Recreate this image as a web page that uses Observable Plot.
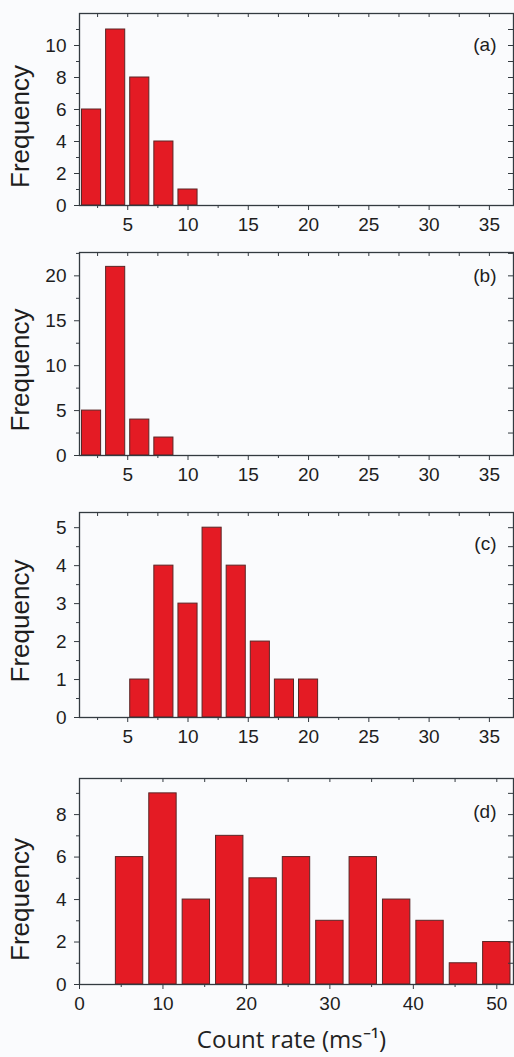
<!DOCTYPE html>
<html>
<head>
<meta charset="utf-8">
<script src="https://cdn.jsdelivr.net/npm/d3@7"></script>
<script src="https://cdn.jsdelivr.net/npm/@observablehq/plot@0.6"></script>
<style>
  html, body { margin: 0; padding: 0; background: #fafbfd; overflow: hidden; }
  #chart svg { display: block; background: transparent; }
</style>
</head>
<body>
<div id="chart"></div>
<script>
// Histogram data: bin centres (count rate, ms^-1) and frequencies
const rateA = [2, 4, 6, 8, 10];
const freqA = [6, 11, 8, 4, 1];
const rateB = [2, 4, 6, 8];
const freqB = [5, 21, 4, 2];
const rateC = [6, 8, 10, 12, 14, 16, 18, 20];
const freqC = [1, 4, 3, 5, 4, 2, 1, 1];
const rateD = [6, 10, 14, 18, 22, 26, 30, 34, 38, 42, 46, 50];
const freqD = [6, 9, 4, 7, 5, 6, 3, 6, 4, 3, 1, 2];
const binWidthABC = 2;
const binWidthD = 4;

const tags = ["(a)", "(b)", "(c)", "(d)"];
const yLabel = "Frequency";
const xLabel = "Count rate (ms\u207B\u00B9)";

// tick values
const xMajorABC = [5, 10, 15, 20, 25, 30, 35];
const xMinorABC = [2.5, 7.5, 12.5, 17.5, 22.5, 27.5, 32.5];
const xMajorD = [0, 10, 20, 30, 40, 50];
const xMinorD = [5, 15, 25, 35, 45];
const yMajorA = [0, 2, 4, 6, 8, 10];
const yMinorA = [1, 3, 5, 7, 9, 11];
const yMajorB = [0, 5, 10, 15, 20];
const yMinorB = [2.5, 7.5, 12.5, 17.5, 22.5];
const yMajorC = [0, 1, 2, 3, 4, 5];
const yMinorC = [0.5, 1.5, 2.5, 3.5, 4.5];
const yMajorD = [0, 2, 4, 6, 8];
const yMinorD = [1, 3, 5, 7, 9];

const W = 514;
const ML = 79, MR = 1;
const INK = "#1e1e1e";
const FRAME = "#333a40";
const RED = "#e41b24";
const EDGE = "#5a2626";
const SANS = "Liberation Sans";

function panel(cfg) {
  const table = cfg.rate.map((r, i) => ({lo: r - cfg.bw / 2, hi: r + cfg.bw / 2, f: cfg.freq[i]}));
  const frameW = W - ML - MR;
  const frameH = cfg.height - cfg.mt - cfg.mb;
  const fmt = d => String(d);
  const marks = [
    Plot.rectY(table, {x1: "lo", x2: "hi", y: "f", fill: RED, stroke: EDGE, strokeWidth: 1,
      insetLeft: cfg.inset, insetRight: cfg.inset}),
    Plot.frame({stroke: FRAME, strokeWidth: 1.3}),
    Plot.axisX({ticks: cfg.xMajor, label: null, tickFormat: fmt, tickSize: 5, tickPadding: 7,
      fontSize: 19, fontFamily: SANS, stroke: FRAME, fill: INK}),
    Plot.axisX({ticks: cfg.xMinor, label: null, tickSize: 3, tickFormat: () => "", stroke: FRAME}),
    Plot.tickX(cfg.xMajor.concat(cfg.xMinor), {x: d => d, insetBottom: frameH - 4, stroke: FRAME}),
    Plot.axisY({ticks: cfg.yMajor, label: null, tickFormat: fmt, tickSize: 5, tickPadding: 8,
      fontSize: 19, fontFamily: SANS, stroke: FRAME, fill: INK}),
    Plot.axisY({ticks: cfg.yMinor, label: null, tickSize: 3, tickFormat: () => "", stroke: FRAME}),
    Plot.tickY(cfg.yMajor.concat(cfg.yMinor), {y: d => d, insetLeft: frameW - 5, stroke: FRAME}),
    Plot.text([cfg.tag], {frameAnchor: "top-right", textAnchor: "end", lineAnchor: "middle",
      dx: -17, dy: cfg.tagDy, fontSize: 19, fontFamily: SANS, fill: INK}),
    Plot.text([yLabel], {frameAnchor: "left", rotate: -90, textAnchor: "middle", lineAnchor: "middle",
      dx: -59, dy: cfg.labelDy, fontSize: 26, fontFamily: SANS, fill: INK})
  ];
  if (cfg.xlabel) {
    marks.push(Plot.text([cfg.xlabel], {frameAnchor: "bottom", textAnchor: "middle", lineAnchor: "middle",
      dx: -5, dy: 56, fontSize: 24, fontFamily: "Open Sans", fill: "#222"}));
  }
  return Plot.plot({
    width: W, height: cfg.height,
    marginLeft: ML, marginRight: MR, marginTop: cfg.mt, marginBottom: cfg.mb,
    style: {fontFamily: SANS, fontSize: "19px", background: "transparent", color: INK},
    x: {domain: cfg.xDomain}, y: {domain: cfg.yDomain},
    marks
  });
}

const root = document.getElementById("chart");
root.append(panel({rate: rateA, freq: freqA, bw: binWidthABC, inset: 2.5, xDomain: [1, 37], yDomain: [0, 12],
  xMajor: xMajorABC, xMinor: xMinorABC, yMajor: yMajorA, yMinor: yMinorA,
  height: 250, mt: 13, mb: 45, tag: tags[0], tagDy: 31, labelDy: 17}));
root.append(panel({rate: rateB, freq: freqB, bw: binWidthABC, inset: 2.5, xDomain: [1, 37], yDomain: [0, 22.6],
  xMajor: xMajorABC, xMinor: xMinorABC, yMajor: yMajorB, yMinor: yMinorB,
  height: 250, mt: 2, mb: 45, tag: tags[1], tagDy: 23, labelDy: 16}));
root.append(panel({rate: rateC, freq: freqC, bw: binWidthABC, inset: 2.5, xDomain: [1, 37], yDomain: [0, 5.4],
  xMajor: xMajorABC, xMinor: xMinorABC, yMajor: yMajorC, yMinor: yMinorC,
  height: 250, mt: 12, mb: 33, tag: tags[2], tagDy: 31, labelDy: 6}));
root.append(panel({rate: rateD, freq: freqD, bw: binWidthD, inset: 3, xDomain: [0, 52], yDomain: [0, 9.7],
  xMajor: xMajorD, xMinor: xMinorD, yMajor: yMajorD, yMinor: yMinorD,
  height: 307, mt: 28, mb: 73, tag: tags[3], tagDy: 33, labelDy: 18, xlabel: xLabel}));
</script>
</body>
</html>
